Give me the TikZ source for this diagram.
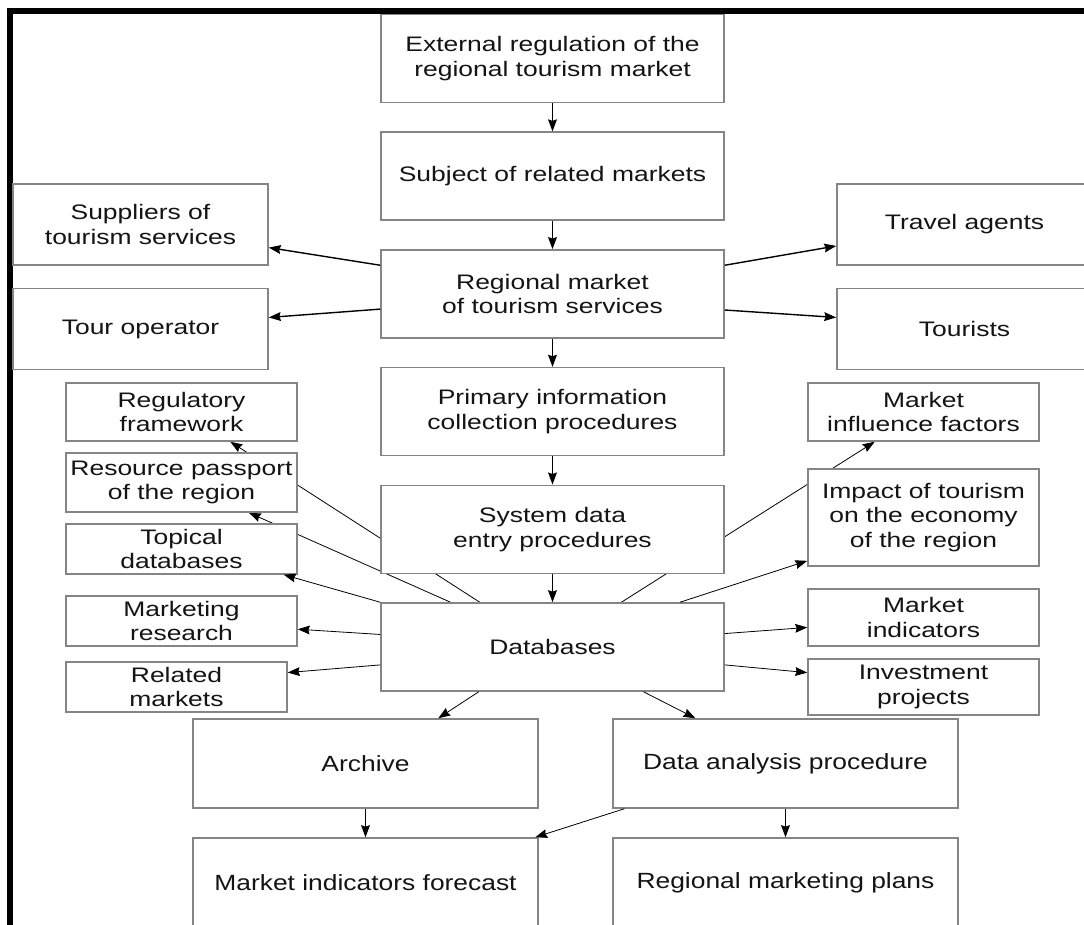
\documentclass[tikz,border=0pt]{standalone}
\usepackage{fontspec}
\setmainfont{Liberation Sans}[FakeStretch=1.26]
\newfontfamily\lowfamily{Liberation Sans}[FakeStretch=1.2]
\usetikzlibrary{positioning, arrows.meta, calc, backgrounds}
\tikzset{
	>={Stealth[length=6pt, width=4.4pt, inset=0.7pt]},
	node distance=14.1pt,
	box/.style={draw=black!48, line width=0.75pt, fill=white, align=center, inner sep=0pt, text=black!92, font=\fontsize{10.5pt}{12.4pt}\selectfont},
	colbox/.style={box, minimum width=171.5pt, minimum height=44pt},
	outbox/.style={box, minimum width=127.5pt, minimum height=40.5pt},
	sidebox/.style={box, minimum width=115.5pt},
	lowbox/.style={box, minimum width=172.5pt, minimum height=44.5pt, font=\lowfamily\fontsize{11pt}{13pt}\selectfont},
}

\begin{document}
\begin{tikzpicture}[x=0.5pt, y=-0.5pt, ->, line width=0.7pt]
	\useasboundingbox (0,0) rectangle (1084,925);
	\fill[-] (7,8) rectangle (13,925);
	\fill[-] (7,8) rectangle (1084,14);

	% centre column
	\node[colbox] (EXT) at (552.5,58.5) {External regulation of the\\regional tourism market};
	\node[colbox, below=of EXT] (SUBJ) {Subject of related markets};
	\node[colbox, below=of SUBJ] (REGM) {Regional market\\of tourism services};
	\node[colbox, below=of REGM] (PRIM) {Primary information\\collection procedures};
	\node[colbox, below=of PRIM] (SYSD) {System data\\entry procedures};
	\node[colbox, below=of SYSD] (DB) {Databases};

	% market participants
	\node[outbox] (SUPP) at (140.5,224.5) {Suppliers of\\tourism services};
	\node[outbox] (TOUROP) at (140.5,329) {Tour operator};
	\node[outbox] (AGENT) at (964.5,224.5) {Travel agents};
	\node[outbox] (TOURIST) at (964.5,329) {Tourists};

	% left databases
	\node[sidebox, minimum height=29pt] (REGF) at (181.5,412) {Regulatory\\framework};
	\node[sidebox, minimum height=29.5pt] (RESP) at (181.5,482.5) {Resource passport\\of the region};
	\node[sidebox, minimum height=25pt] (TOPDB) at (181.5,549) {Topical\\databases};
	\node[sidebox, minimum height=25pt] (MRES) at (181.5,621) {Marketing\\research};
	\node[sidebox, minimum width=110.5pt, minimum height=25pt] (RELM) at (176.5,687) {Related\\markets};

	% right databases
	\node[sidebox, minimum height=29pt] (MIF) at (923.5,412) {Market\\influence factors};
	\node[sidebox, minimum height=48.5pt] (IMPACT) at (923.5,517.5) {Impact of tourism\\on the economy\\of the region};
	\node[sidebox, minimum height=28.5pt] (MIND) at (923.5,617.5) {Market\\indicators};
	\node[sidebox, minimum height=28pt] (INVEST) at (923.5,687) {Investment\\projects};

	% outputs
	\node[lowbox] (ARCH) at (365.5,763.5) {Archive};
	\node[lowbox] (ANALYSIS) at (785.5,763.5) {Data analysis procedure};
	\node[lowbox] (FORECAST) at (365.5,882.5) {Market indicators forecast};
	\node[lowbox] (PLANS) at (785.5,882.5) {Regional marketing plans};

	\draw (EXT) edge (SUBJ);
	\draw (SUBJ) edge (REGM);
	\draw (REGM) edge (PRIM);
	\draw (PRIM) edge (SYSD);
	\draw (SYSD) edge (DB);

	\draw ($(REGM.north west)!0.18!(REGM.south west)$) -- ($(SUPP.north east)!0.78!(SUPP.south east)$);
	\draw ($(REGM.north west)!0.67!(REGM.south west)$) -- ($(TOUROP.north east)!0.36!(TOUROP.south east)$);
	\draw ($(REGM.north east)!0.18!(REGM.south east)$) -- ($(AGENT.north west)!0.76!(AGENT.south west)$);
	\draw ($(REGM.north east)!0.68!(REGM.south east)$) -- ($(TOURIST.north west)!0.36!(TOURIST.south west)$);

	% these run behind the boxes
	\begin{pgfonlayer}{background}
		\draw ($(DB.north west)!0.289!(DB.north east)$) -- ($(REGF.south west)!0.71!(REGF.south east)$);
		\draw ($(DB.north west)!0.204!(DB.north east)$) -- ($(RESP.south west)!0.79!(RESP.south east)$);
		\draw ($(DB.north west)!0.70!(DB.north east)$) -- ($(MIF.south west)!0.29!(MIF.south east)$);
	\end{pgfonlayer}
	\draw (DB.north west) -- ($(TOPDB.south west)!0.94!(TOPDB.south east)$);
	\draw ($(DB.north west)!0.36!(DB.south west)$) -- ($(MRES.north east)!0.66!(MRES.south east)$);
	\draw ($(DB.north west)!0.70!(DB.south west)$) -- ($(RELM.north east)!0.22!(RELM.south east)$);
	\draw ($(DB.north west)!0.87!(DB.north east)$) -- ($(IMPACT.north west)!0.94!(IMPACT.south west)$);
	\draw ($(DB.north east)!0.35!(DB.south east)$) -- ($(MIND.north west)!0.67!(MIND.south west)$);
	\draw ($(DB.north east)!0.70!(DB.south east)$) -- ($(INVEST.north west)!0.25!(INVEST.south west)$);

	\draw ($(DB.south west)!0.286!(DB.south east)$) -- ($(ARCH.north west)!0.71!(ARCH.north east)$);
	\draw ($(DB.south west)!0.764!(DB.south east)$) -- ($(ANALYSIS.north west)!0.24!(ANALYSIS.north east)$);
	\draw (ARCH) edge (FORECAST);
	\draw ($(ANALYSIS.south west)!0.035!(ANALYSIS.south east)$) -- ($(FORECAST.north west)!0.99!(FORECAST.north east)$);
	\draw (ANALYSIS) edge (PLANS);
\end{tikzpicture}
\end{document}
